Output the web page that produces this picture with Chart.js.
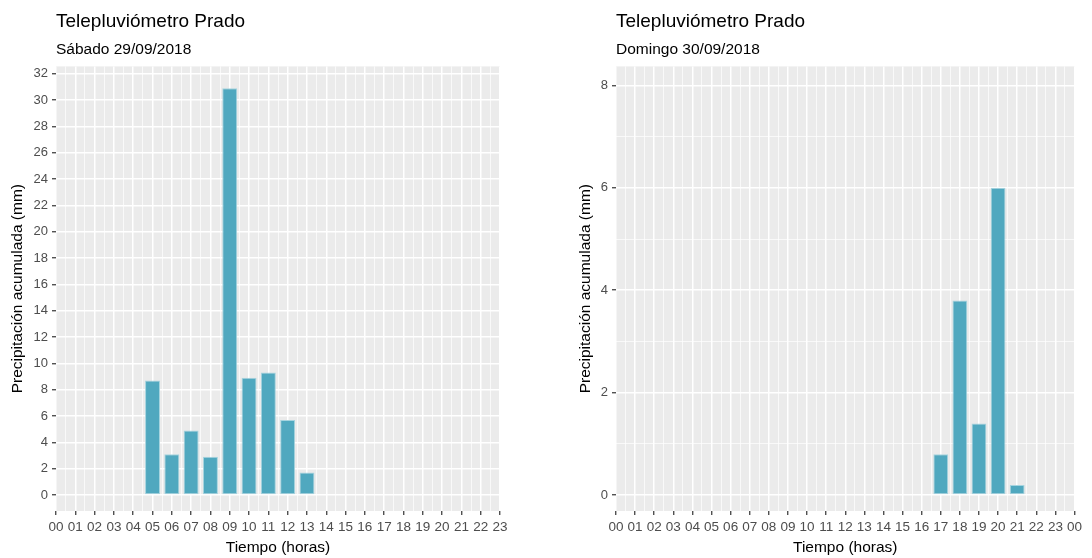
<!DOCTYPE html>
<html>
<head>
<meta charset="utf-8">
<script src="https://cdn.jsdelivr.net/npm/chart.js@4.4.1/dist/chart.umd.min.js"></script>
<style>
  html, body { margin: 0; background: #fff; }
  .wrap { display: flex; width: 1092px; height: 558px; }
  .panel { position: relative; height: 558px; }
</style>
</head>
<body>
<div class="wrap">
  <div class="panel" style="width:560px"><canvas id="sat"></canvas></div>
  <div class="panel" style="width:532px"><canvas id="sun"></canvas></div>
</div>
<script>
// values
const STATION = "Telepluviómetro Prado";
const SAT_SUBTITLE = "Sábado 29/09/2018";
const SUN_SUBTITLE = "Domingo 30/09/2018";

const SAT_HOURS = [5, 6, 7, 8, 9, 10, 11, 12, 13];
const SAT_RAIN_MM = [8.7, 3.1, 4.9, 2.9, 30.9, 8.9, 9.3, 5.7, 1.7];

const SUN_HOURS = [17, 18, 19, 20, 21];
const SUN_RAIN_MM = [0.8, 3.8, 1.4, 6.0, 0.2];

const SAT_X_LABELS = ["00", "01", "02", "03", "04", "05", "06", "07", "08", "09", "10", "11",
  "12", "13", "14", "15", "16", "17", "18", "19", "20", "21", "22", "23"];
const SUN_X_LABELS = ["00", "01", "02", "03", "04", "05", "06", "07", "08", "09", "10", "11",
  "12", "13", "14", "15", "16", "17", "18", "19", "20", "21", "22", "23", "00"];

const SAT_Y_LABELS = [0, 2, 4, 6, 8, 10, 12, 14, 16, 18, 20, 22, 24, 26, 28, 30, 32];
const SUN_Y_LABELS = [0, 2, 4, 6, 8];

const X_TITLE = "Tiempo (horas)";
const Y_TITLE = "Precipitación acumulada (mm)";

Chart.defaults.font.family = "'Liberation Sans', Arial, Helvetica, sans-serif";

// major ticks plus one minor tick halfway between each pair (ggplot style grid)
function withMinor(major) {
  const out = [];
  major.forEach((v, i) => {
    out.push({ value: v, major: true });
    if (i < major.length - 1) out.push({ value: (v + major[i + 1]) / 2, major: false });
  });
  return out;
}

const panelBackground = {
  id: "panelBackground",
  beforeDraw(chart) {
    const { ctx, chartArea: a } = chart;
    ctx.save();
    ctx.fillStyle = "#ebebeb";
    ctx.fillRect(a.left, a.top, a.right - a.left, a.bottom - a.top);
    ctx.restore();
  },
};

function gridStyle() {
  return {
    color: "#ffffff",
    lineWidth: (c) => (c.tick && c.tick.major ? 1.5 : 0.7),
    tickColor: (c) => (c.tick && c.tick.major ? "#333333" : "rgba(0,0,0,0)"),
    tickLength: 4,
    tickWidth: 1.2,
    offset: false,
  };
}

function makeChart(id, p) {
  const xTicks = withMinor(p.xLabels.map((_, i) => i));
  const yTicks = withMinor(p.yLabels);
  return new Chart(document.getElementById(id), {
    type: "bar",
    data: {
      datasets: [{
        data: p.hours.map((h, i) => ({ x: h, y: p.rain[i] })),
        backgroundColor: "#50a8bf",
        borderColor: "#a6d4df",
        borderWidth: 1,
        borderSkipped: false,
        categoryPercentage: 1,
        barPercentage: 1.55,
      }],
    },
    options: {
      animation: false,
      responsive: true,
      maintainAspectRatio: false,
      layout: { padding: { left: 0, right: p.padRight, top: 0, bottom: 0 } },
      plugins: {
        legend: { display: false },
        tooltip: { enabled: false },
        title: {
          display: true, text: STATION, align: "start", fullSize: false,
          color: "#000", font: { size: 19, weight: "normal" },
          padding: { top: 10, bottom: 0 },
        },
        subtitle: {
          display: true, text: p.subtitle, align: "start", fullSize: false,
          color: "#000", font: { size: 15.5, weight: "normal" },
          padding: { top: 8, bottom: 7 },
        },
      },
      scales: {
        x: {
          type: "linear",
          min: 0,
          max: p.xLabels.length - 1,
          offset: false,
          afterBuildTicks: (axis) => { axis.ticks = xTicks.map((t) => ({ ...t })); },
          afterFit: (axis) => { axis.height = 47; },
          ticks: {
            autoSkip: false, maxRotation: 0, padding: 4,
            color: "#4d4d4d", font: { size: 13.5 },
            callback: (v) => (Number.isInteger(v) ? p.xLabels[v] : ""),
          },
          grid: gridStyle(),
          border: { display: false },
          title: {
            display: true, text: X_TITLE, color: "#000",
            font: { size: 15.5 }, padding: { top: 0, bottom: 1 },
          },
        },
        y: {
          type: "linear",
          min: p.yMin,
          max: p.yMax,
          afterBuildTicks: (axis) => { axis.ticks = yTicks.map((t) => ({ ...t })); },
          afterFit: (axis) => { axis.width = 56; },
          ticks: {
            padding: 4, color: "#4d4d4d", font: { size: 13 },
            callback: (v) => (p.yLabels.includes(v) ? String(v) : ""),
          },
          grid: gridStyle(),
          border: { display: false },
          title: {
            display: true, text: Y_TITLE, color: "#000",
            font: { size: 15.5 }, padding: { top: p.yTitlePad, bottom: 0 },
          },
        },
      },
    },
    plugins: [panelBackground],
  });
}

makeChart("sat", {
  subtitle: SAT_SUBTITLE, hours: SAT_HOURS, rain: SAT_RAIN_MM,
  xLabels: SAT_X_LABELS, yLabels: SAT_Y_LABELS,
  yMin: -1.22, yMax: 32.56, padRight: 60, yTitlePad: 8.5,
});

makeChart("sun", {
  subtitle: SUN_SUBTITLE, hours: SUN_HOURS, rain: SUN_RAIN_MM,
  xLabels: SUN_X_LABELS, yLabels: SUN_Y_LABELS,
  yMin: -0.31, yMax: 8.37, padRight: 17.5, yTitlePad: 16,
});
</script>
</body>
</html>
